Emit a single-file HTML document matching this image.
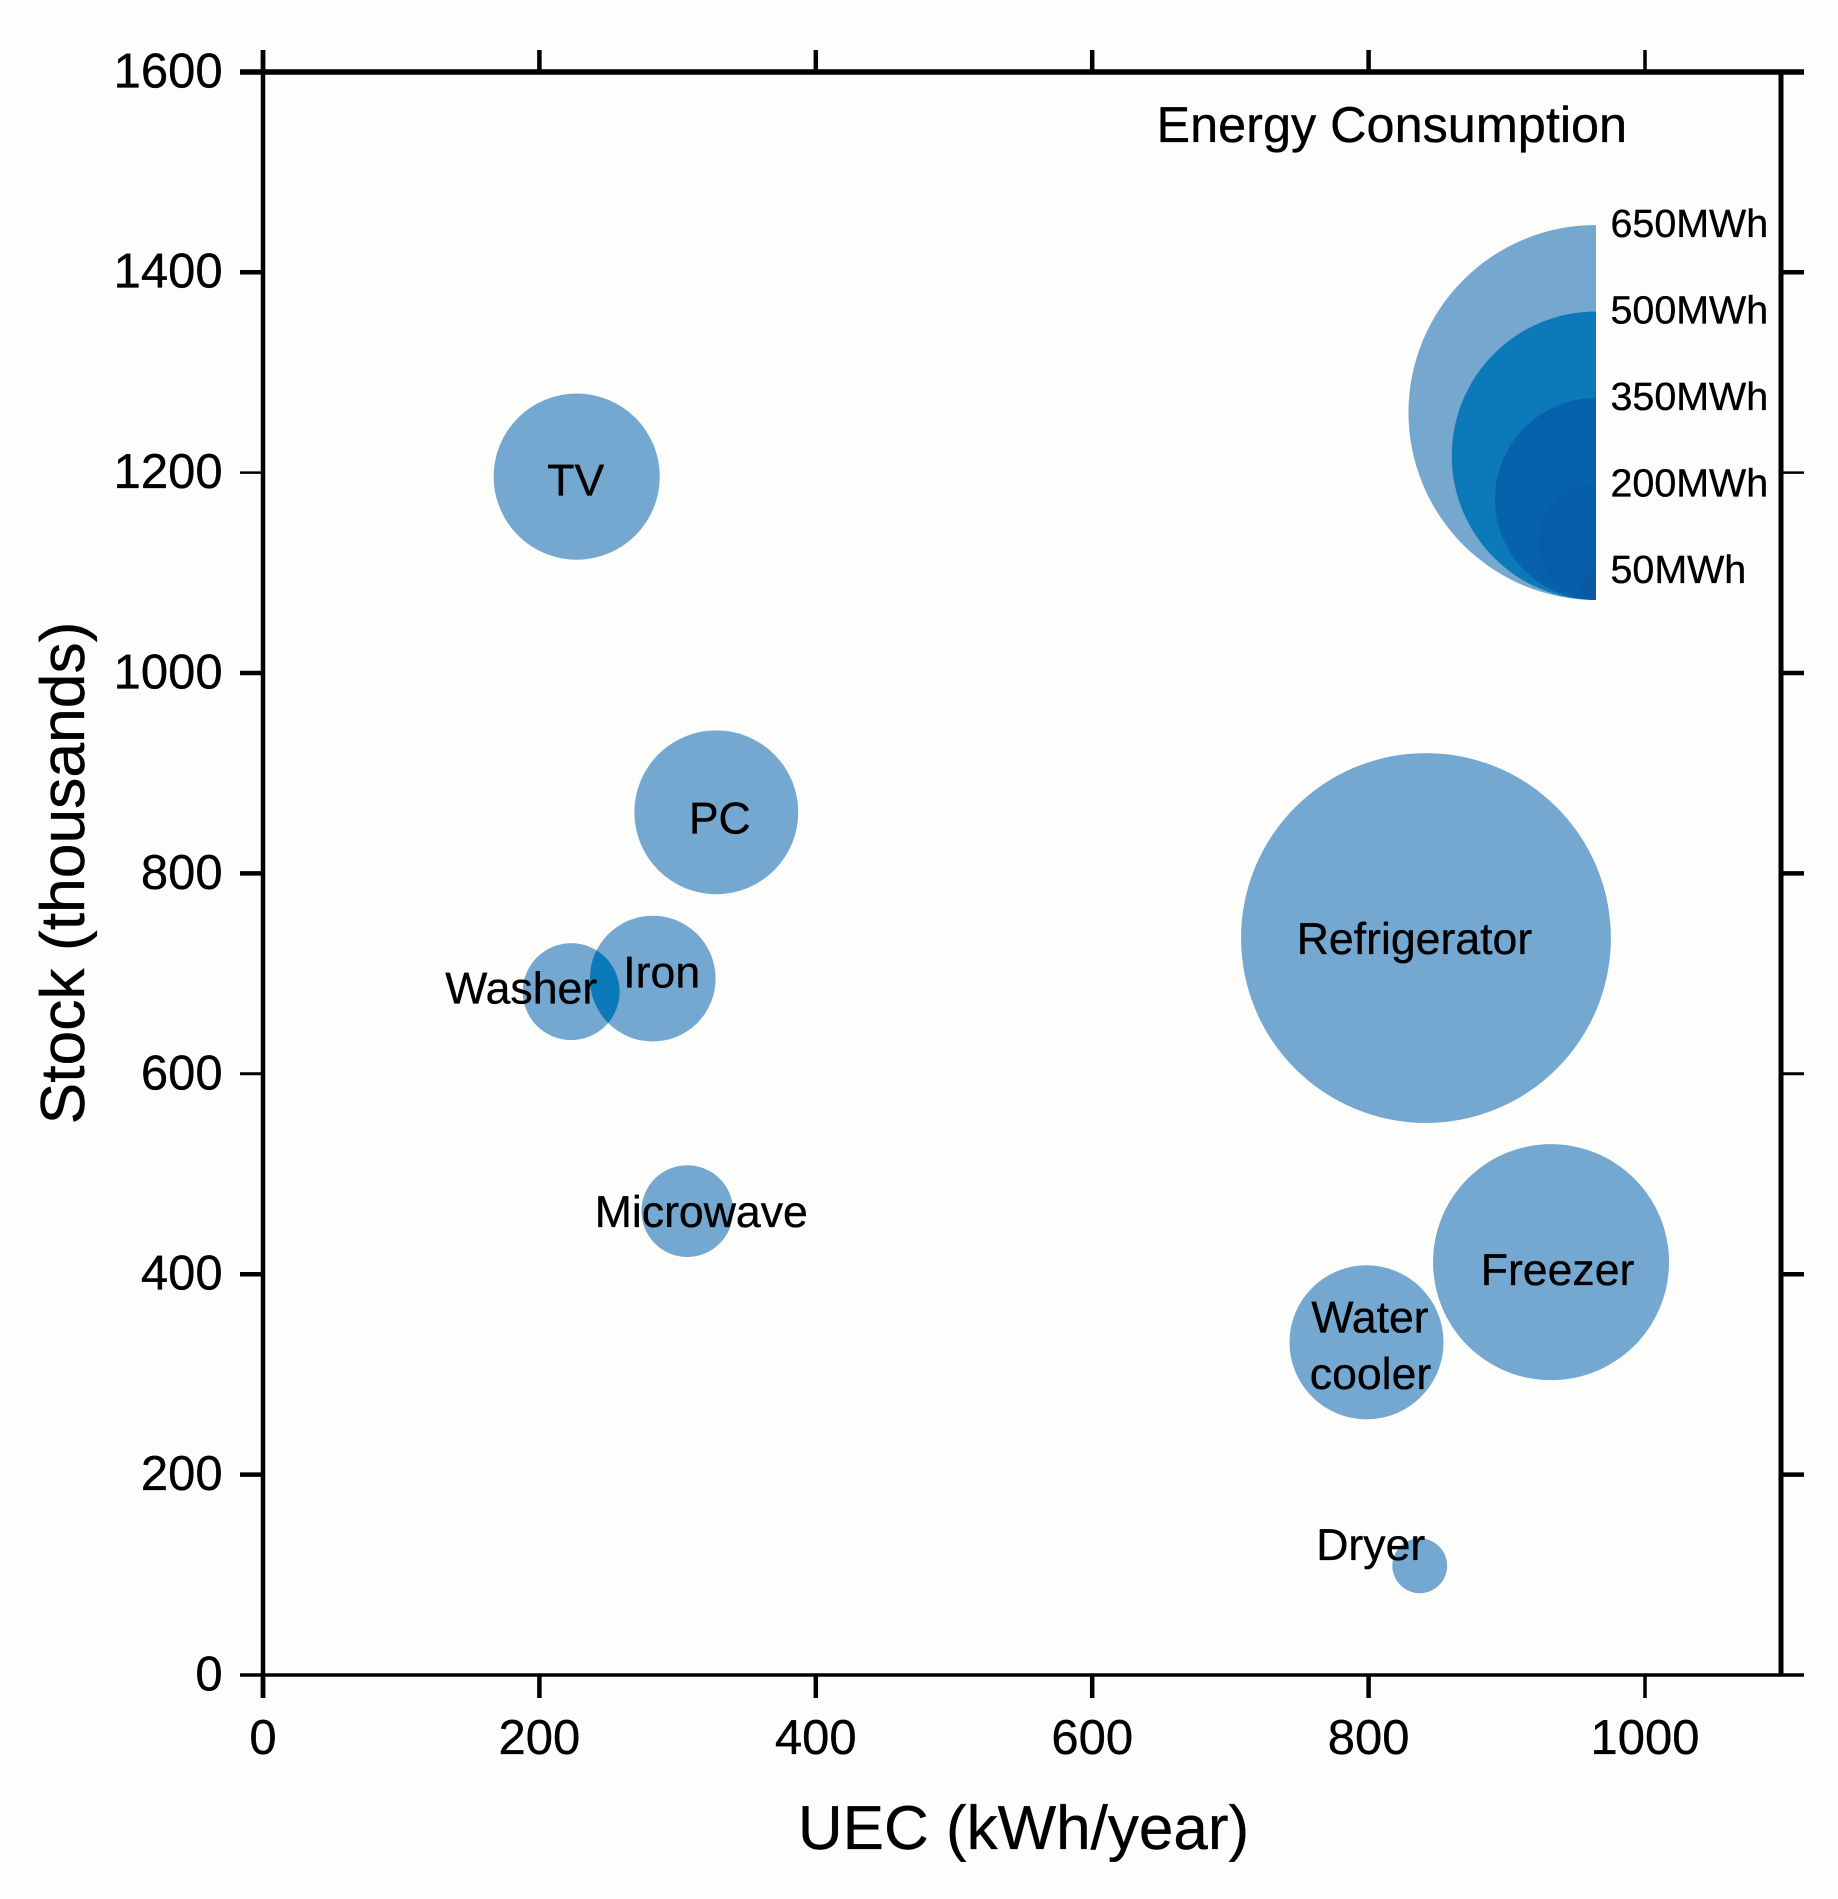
<!DOCTYPE html>
<html lang="en">
<head>
<meta charset="utf-8">
<title>Energy Consumption Bubble Chart</title>
<style>
html,body{margin:0;padding:0;background:#fdfdfc;}
#chart{display:block;width:1838px;height:1899px;}
text{font-family:"Liberation Sans",Arial,sans-serif;fill:#000;stroke:#000;stroke-width:0.35px;text-rendering:geometricPrecision;}
</style>
</head>
<body>
<svg id="chart" xmlns="http://www.w3.org/2000/svg" width="1838" height="1899" viewBox="0 0 1838 1899">
  <rect x="0" y="0" width="1838" height="1899" fill="#fdfdfc"/>
  <defs id="defs"></defs>
  <g id="bubbles"></g>
  <g id="legend"></g>
  <g id="axes"></g>
  <g id="labels"></g>
  <text x="1156.5" y="142" font-size="50.4">Energy Consumption</text>
  <text x="1023.5" y="1849" font-size="62" text-anchor="middle">UEC (kWh/year)</text>
  <text transform="translate(84 873) rotate(-90)" font-size="62.4" text-anchor="middle">Stock (thousands)</text>
</svg>
<script>
var categories = ["TV", "PC", "Iron", "Washer", "Microwave", "Refrigerator", "Freezer", "Water cooler", "Dryer"];
var uecValues = [227, 328, 282, 223, 307, 841.5, 932, 798.5, 837];
var stockValues = [1196, 861, 695, 682, 463, 735.5, 412, 332, 109];
var energyValues = [288, 284, 218, 168, 159, 641, 409, 267, 95];
var xTicks = [0, 200, 400, 600, 800, 1000];
var yTicks = [0, 200, 400, 600, 800, 1000, 1200, 1400, 1600];
var legendValues = [650, 500, 350, 200, 50];

var NS = "http://www.w3.org/2000/svg";
var plotLeft = 263, plotRight = 1781, plotTop = 72, plotBottom = 1675;
function xScale(v) { return plotLeft + v * 1.382; }
function yScale(v) { return plotBottom - v * 1.002; }
function rScale(v) { return v * 0.2885; }

var labelLayout = {
  "TV": [{t: "TV", dx: -1, dy: 19}],
  "PC": [{t: "PC", dx: 3.5, dy: 21}],
  "Iron": [{t: "Iron", dx: 9, dy: 9}],
  "Washer": [{t: "Washer", dx: -50, dy: 12}],
  "Microwave": [{t: "Microwave", dx: 14, dy: 16}],
  "Refrigerator": [{t: "Refrigerator", dx: -11.5, dy: 16}],
  "Freezer": [{t: "Freezer", dx: 6.5, dy: 23}],
  "Water cooler": [{t: "Water", dx: 3.5, dy: -10}, {t: "cooler", dx: 4, dy: 46.5}],
  "Dryer": [{t: "Dryer", dx: -49, dy: -6}]
};
var bubbleColor = "#74a8d0";
var overlapColor = "#0c79b8";
var legendColors = ["#76a8cf", "#0c79b8", "#0662aa", "#075ea8", "#0858a3"];

function make(tag, attrs) {
  var el = document.createElementNS(NS, tag);
  for (var k in attrs) { el.setAttribute(k, attrs[k]); }
  return el;
}
function slug(s) { return s.toLowerCase().replace(/\s+/g, "-"); }

var defs = document.getElementById("defs");
var bubbles = document.getElementById("bubbles");
var labels = document.getElementById("labels");
var legend = document.getElementById("legend");
var axes = document.getElementById("axes");

/* bubbles */
categories.forEach(function (name, i) {
  var c = make("circle", {cx: xScale(uecValues[i]), cy: yScale(stockValues[i]), r: rScale(energyValues[i]), fill: bubbleColor});
  
  
  bubbles.appendChild(c);
});

/* overlap regions between bubbles */
categories.forEach(function (a, i) {
  categories.forEach(function (b, j) {
    if (j <= i) { return; }
    var ax = xScale(uecValues[i]), ay = yScale(stockValues[i]), ar = rScale(energyValues[i]);
    var bx = xScale(uecValues[j]), by = yScale(stockValues[j]), br = rScale(energyValues[j]);
    if (Math.hypot(ax - bx, ay - by) >= ar + br) { return; }
    var id = "clip-" + i + "-" + j;
    var clip = make("clipPath", {id: id});
    clip.appendChild(make("circle", {cx: ax, cy: ay, r: ar}));
    defs.appendChild(clip);
    var o = make("circle", {cx: bx, cy: by, r: br, fill: overlapColor, "clip-path": "url(#" + id + ")"});
    
    
    bubbles.appendChild(o);
  });
});

/* bubble labels */
categories.forEach(function (name, i) {
  labelLayout[name].forEach(function (l) {
    var t = make("text", {x: xScale(uecValues[i]) + l.dx, y: yScale(stockValues[i]) + l.dy, "font-size": 44.6, "text-anchor": "middle"});
    
    
    t.textContent = l.t;
    labels.appendChild(t);
  });
});

/* size legend: nested half circles sharing the same bottom point */
var legendRight = 1596, legendBottom = 600;
var legendClip = make("clipPath", {id: "legend-clip"});
legendClip.appendChild(make("rect", {x: legendRight - 300, y: legendBottom - 500, width: 300, height: 520}));
defs.appendChild(legendClip);
legendValues.forEach(function (v, i) {
  var r = rScale(v);
  var c = make("circle", {cx: legendRight, cy: legendBottom - r, r: r, fill: legendColors[i], "clip-path": "url(#legend-clip)"});
  
  
  legend.appendChild(c);
  var t = make("text", {x: 1610.5, y: legendBottom - 2 * r + 12, "font-size": 39.4});
  
  
  t.textContent = v + "MWh";
  legend.appendChild(t);
});

/* axes */
function line(x1, y1, x2, y2, w, name) {
  var l = make("line", {x1: x1, y1: y1, x2: x2, y2: y2, stroke: "#000", "stroke-width": w});
  
  
  axes.appendChild(l);
}
line(240, plotTop, 1804, plotTop, 5.5, 'top-spine');
line(240, plotBottom, 1804, plotBottom, 3.5, 'bottom-spine');
line(plotLeft, 50, plotLeft, 1698, 4.5, 'left-spine');
line(plotRight, plotTop, plotRight, plotBottom, 5, 'right-spine');

xTicks.forEach(function (v) {
  var x = xScale(v);
  line(x, 50, x, plotTop, v === 1000 ? 3.5 : 4.5, 'x-top-tick');
  line(x, plotBottom, x, 1698, v === 1000 ? 3.5 : 4.5, 'x-bottom-tick');
  var t = make("text", {x: x, y: 1754, "font-size": 49, "text-anchor": "middle"});
  
  
  t.textContent = v;
  axes.appendChild(t);
});
yTicks.forEach(function (v) {
  var y = yScale(v);
  var w = v === 1200 ? 2.5 : (v === 600 || v === 0 ? 3 : 4.5);
  if (v !== 0 && v !== 1600) {
    line(240, y, plotLeft, y, w, 'y-left-tick');
    line(plotRight, y, 1804, y, w, 'y-right-tick');
  }
  var t = make("text", {x: 222.7, y: y + 15.5, "font-size": 49, "text-anchor": "end"});
  
  
  t.textContent = v;
  axes.appendChild(t);
});
</script>
</body>
</html>
